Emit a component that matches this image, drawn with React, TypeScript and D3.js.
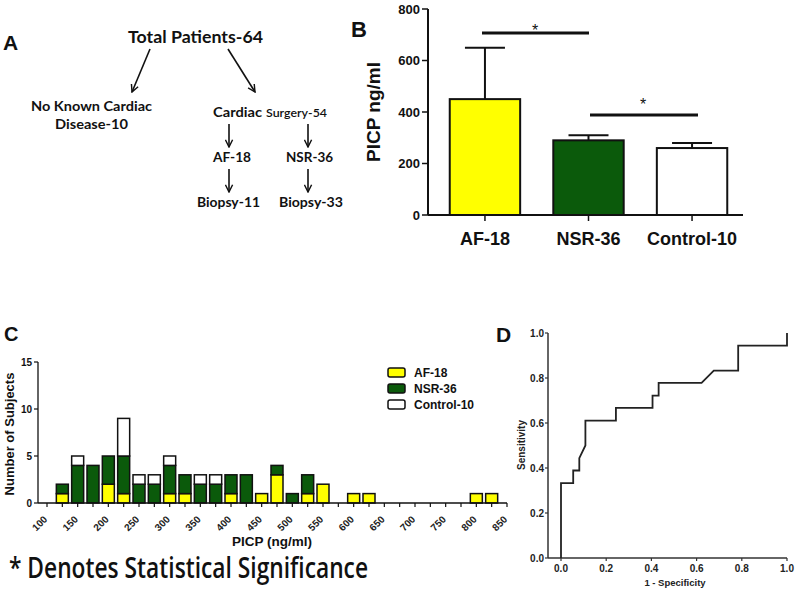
import React from 'react';
import * as d3 from 'd3';

// panel B
const groups = ['AF-18', 'NSR-36', 'Control-10'];
const groupMeans = [450, 290, 260];
const groupErrTop = [650, 310, 280];
const groupFills = ['#ffff00', '#0b5a0b', '#ffffff'];
const bTicks = [0, 200, 400, 600, 800];

// panel C histogram (bin centres, counts per group)
const bins = [125, 150, 175, 200, 225, 250, 275, 300, 325, 350, 375, 400, 425, 450, 475, 500, 525, 550, 600, 625, 800, 825];
const afCounts = [1, 0, 0, 2, 1, 0, 0, 1, 1, 0, 0, 1, 0, 1, 3, 0, 1, 2, 1, 1, 1, 1];
const nsrCounts = [1, 4, 4, 3, 4, 2, 2, 3, 2, 2, 2, 2, 3, 0, 1, 1, 2, 0, 0, 0, 0, 0];
const ctrlCounts = [0, 1, 0, 0, 4, 1, 1, 1, 0, 1, 1, 0, 0, 0, 0, 0, 0, 0, 0, 0, 0, 0];
const cTickLabels = [100, 150, 200, 250, 300, 350, 400, 450, 500, 550, 600, 650, 700, 750, 800, 850];
const cMinorTicks = [125, 175, 225, 275, 325, 375, 425, 475, 525, 575, 625, 675, 725, 775, 825];
const cYTicks = [0, 5, 10, 15];
const legendItems = ['AF-18', 'NSR-36', 'Control-10'];

// panel D ROC
const rocFpr = [0, 0, 0.054, 0.054, 0.081, 0.081, 0.108, 0.108, 0.243, 0.243, 0.405, 0.405, 0.432, 0.432, 0.622, 0.676, 0.784, 0.784, 1, 1];
const rocTpr = [0, 0.333, 0.333, 0.389, 0.389, 0.444, 0.5, 0.611, 0.611, 0.667, 0.667, 0.722, 0.722, 0.778, 0.778, 0.833, 0.833, 0.944, 0.944, 1];
const dTicks = [0, 0.2, 0.4, 0.6, 0.8, 1.0];

const ARIAL = '"Liberation Sans", Arial, sans-serif';
const HUMAN = 'Lato, "Open Sans", sans-serif';

const App = () => {
  // ---- B scales
  const bx = d3.scaleBand().domain(groups).range([428, 749]).paddingInner(0.32).paddingOuter(0.21);
  const by = d3.scaleLinear().domain([0, 800]).range([215, 9]);

  // ---- C scales
  const cx = d3.scaleLinear().domain([100, 850]).range([47, 507]);
  const cy = d3.scaleLinear().domain([0, 15]).range([503, 362]);
  const rows = bins.map((b, i) => ({ bin: b, af: afCounts[i], nsr: nsrCounts[i], ctrl: ctrlCounts[i] }));
  const stacked = d3.stack().keys(['af', 'nsr', 'ctrl'])(rows as any);
  const barW = 12;

  // ---- D scales
  const dx = d3.scaleLinear().domain([0, 1]).range([561, 787]);
  const dy = d3.scaleLinear().domain([0, 1]).range([558, 333]);
  const rocLine = d3.line<number>().x((d) => dx(d)).y((_, i) => dy(rocTpr[i]));

  const arrow = (x1: number, y1: number, x2: number, y2: number) => (
    <line x1={x1} y1={y1} x2={x2} y2={y2} stroke="#111" strokeWidth={1.6} markerEnd="url(#arr)" />
  );

  return (
    <div style={{ position: 'absolute', left: 0, top: 0 }}>
      <svg width={800} height={590} style={{ display: 'block', background: '#fff' }}>
        <defs>
          <marker id="arr" viewBox="0 0 10 10" refX={9} refY={5} markerWidth={9} markerHeight={9} markerUnits="userSpaceOnUse" orient="auto">
            <path d="M1,1 L9,5 L1,9" fill="none" stroke="#111" strokeWidth={1.6} />
          </marker>
        </defs>

        {/* ---------- Panel A ---------- */}
        <g fill="#111" fontFamily={HUMAN} fontWeight="bold">
          <text x={3} y={50} fontSize={21} fontFamily={ARIAL}>A</text>
          <text x={128} y={43} fontSize={17} textLength={135} lengthAdjust="spacingAndGlyphs">Total Patients-64</text>
          {arrow(150, 49, 132, 92)}
          {arrow(228, 49, 255, 92)}
          <text x={31} y={111} fontSize={13.5} textLength={121} lengthAdjust="spacingAndGlyphs">No Known Cardiac</text>
          <text x={55} y={129} fontSize={13.5} textLength={73} lengthAdjust="spacingAndGlyphs">Disease-10</text>
          <text x={213} y={117} fontSize={13.5} textLength={49} lengthAdjust="spacingAndGlyphs">Cardiac</text>
          <text x={266} y={117} fontSize={12} fontWeight={600} textLength={61} lengthAdjust="spacingAndGlyphs">Surgery-54</text>
          {arrow(229, 124, 229, 147)}
          {arrow(308, 124, 308, 147)}
          <text x={213} y={162} fontSize={13.5} textLength={38} lengthAdjust="spacingAndGlyphs">AF-18</text>
          <text x={286} y={162} fontSize={13.5} textLength={47} lengthAdjust="spacingAndGlyphs">NSR-36</text>
          {arrow(229, 169, 229, 192)}
          {arrow(308, 169, 308, 192)}
          <text x={197} y={207} fontSize={13.5} textLength={63} lengthAdjust="spacingAndGlyphs">Biopsy-11</text>
          <text x={279} y={207} fontSize={13.5} textLength={64} lengthAdjust="spacingAndGlyphs">Biopsy-33</text>
        </g>

        {/* ---------- Panel B ---------- */}
        <g fontFamily={ARIAL} fill="#111">
          <text x={351} y={37} fontSize={22} fontWeight="bold">B</text>
          <text transform="translate(380,112) rotate(-90)" textAnchor="middle" fontSize={19} fontWeight="bold">PICP ng/ml</text>
          {bTicks.map((t) => (
            <g key={t}>
              <line x1={422} x2={428} y1={by(t)} y2={by(t)} stroke="#111" strokeWidth={1.5} />
              <text x={420} y={by(t) + 4.5} textAnchor="end" fontSize={13} fontWeight="bold">{t}</text>
            </g>
          ))}
          {groups.map((g, i) => {
            const x0 = bx(g)!;
            const cxm = x0 + bx.bandwidth() / 2;
            return (
              <g key={g}>
                <line x1={cxm} x2={cxm} y1={by(groupMeans[i])} y2={by(groupErrTop[i])} stroke="#111" strokeWidth={2} />
                <line x1={cxm - 20} x2={cxm + 20} y1={by(groupErrTop[i])} y2={by(groupErrTop[i])} stroke="#111" strokeWidth={2} />
                <rect x={x0} y={by(groupMeans[i])} width={bx.bandwidth()} height={by(0) - by(groupMeans[i])} fill={groupFills[i]} stroke="#111" strokeWidth={2} />
                <line x1={cxm} x2={cxm} y1={215} y2={221} stroke="#111" strokeWidth={1.5} />
                <text x={cxm} y={245} textAnchor="middle" fontSize={18} fontWeight="bold">{g}</text>
              </g>
            );
          })}
          <line x1={428} x2={428} y1={by(800)} y2={215} stroke="#111" strokeWidth={2} />
          <line x1={428} x2={743} y1={215} y2={215} stroke="#111" strokeWidth={2} />
          {/* significance */}
          <line x1={482} x2={589} y1={33} y2={33} stroke="#111" strokeWidth={3} />
          <text x={535} y={36} textAnchor="middle" fontSize={16}>*</text>
          <line x1={590} x2={698} y1={115} y2={115} stroke="#111" strokeWidth={3} />
          <text x={643} y={110} textAnchor="middle" fontSize={16}>*</text>
        </g>

        {/* ---------- Panel C ---------- */}
        <g fontFamily={ARIAL} fill="#111">
          <text x={4} y={341} fontSize={20} fontWeight="bold">C</text>
          {stacked.map((layer, li) =>
            layer.map((d, i) =>
              d[1] > d[0] ? (
                <rect key={li + '-' + i} x={cx(bins[i]) - barW / 2} y={cy(d[1])} width={barW} height={cy(d[0]) - cy(d[1])}
                  fill={groupFills[li]} stroke="#111" strokeWidth={1.5} />
              ) : null
            )
          )}
          <line x1={38} x2={38} y1={362} y2={503} stroke="#111" strokeWidth={1.3} />
          <line x1={38} x2={507} y1={503} y2={503} stroke="#111" strokeWidth={1.3} />
          {cYTicks.map((t) => (
            <g key={t}>
              <line x1={34} x2={38} y1={cy(t)} y2={cy(t)} stroke="#111" strokeWidth={1.2} />
              <text x={32} y={cy(t) + 3.5} textAnchor="end" fontSize={10} fontWeight="bold">{t}</text>
            </g>
          ))}
          {cMinorTicks.concat(cTickLabels).map((t) => (
            <line key={'m' + t} x1={cx(t)} x2={cx(t)} y1={503} y2={507} stroke="#111" strokeWidth={1.2} />
          ))}
          {cTickLabels.map((t) => (
            <text key={t} transform={`translate(${cx(t) + 1},${520}) rotate(-45)`} textAnchor="end" fontSize={10} fontWeight="bold" fill="#222">{t}</text>
          ))}
          <text x={272} y={546} textAnchor="middle" fontSize={13.5} fontWeight="bold">PICP (ng/ml)</text>
          <text transform="translate(14,434) rotate(-90)" textAnchor="middle" fontSize={13} fontWeight="bold">Number of Subjects</text>
          {legendItems.map((l, i) => (
            <g key={l}>
              <rect x={388} y={368 + i * 16} width={17} height={9} rx={2} fill={groupFills[i]} stroke="#111" strokeWidth={1.5} />
              <text x={414} y={376.5 + i * 16} fontSize={12} fontWeight="bold">{l}</text>
            </g>
          ))}
          <text x={9} y={578} fontSize={28} fontFamily='"Open Sans", Lato, sans-serif' fontWeight={600} textLength={359} lengthAdjust="spacingAndGlyphs">* Denotes Statistical Significance</text>
        </g>

        {/* ---------- Panel D ---------- */}
        <g fontFamily={ARIAL} fill="#222">
          <text x={496} y={342} fontSize={21} fontWeight="bold" fill="#111">D</text>
          <line x1={548} x2={548} y1={333} y2={558} stroke="#333" strokeWidth={1.5} />
          <line x1={548} x2={787} y1={558} y2={558} stroke="#333" strokeWidth={1.5} />
          {dTicks.map((t) => (
            <g key={t}>
              <line x1={545} x2={548} y1={dy(t)} y2={dy(t)} stroke="#333" strokeWidth={1.2} />
              <text x={544} y={dy(t) + 3.5} textAnchor="end" fontSize={10} fontWeight="bold">{t.toFixed(1)}</text>
              <line x1={dx(t)} x2={dx(t)} y1={558} y2={561} stroke="#333" strokeWidth={1.2} />
              <text x={dx(t)} y={572} textAnchor="middle" fontSize={10} fontWeight="bold">{t.toFixed(1)}</text>
            </g>
          ))}
          <path d={rocLine(rocFpr) || ''} fill="none" stroke="#222" strokeWidth={1.8} />
          <text x={675} y={586} textAnchor="middle" fontSize={9.5} fontWeight="bold">1 - Specificity</text>
          <text transform="translate(525,445) rotate(-90)" textAnchor="middle" fontSize={10} fontWeight="bold">Sensitivity</text>
        </g>
      </svg>
    </div>
  );
};

export default App;
